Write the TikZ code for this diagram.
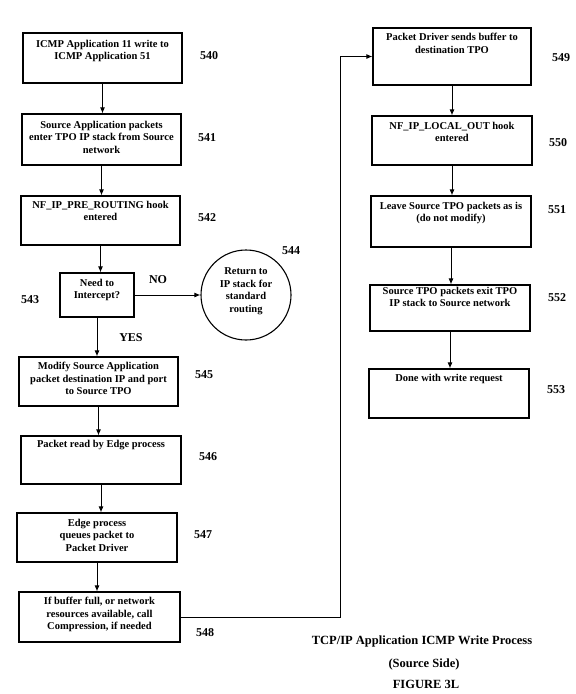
\documentclass[tikz,border=0pt]{standalone}
\usepackage{fontspec}
\setmainfont{Liberation Serif}
\usetikzlibrary{arrows.meta}
\begin{document}
\begin{tikzpicture}[x=1pt,y=-1pt,
  box/.style={draw, line width=1.1pt, inner sep=0pt, fill=white},
  txt/.style={font=\fontsize{10.5}{12.5}\selectfont\bfseries, align=center, inner sep=0pt},
  num/.style={font=\fontsize{12}{14}\selectfont\bfseries, inner sep=0pt},
  ttl/.style={font=\fontsize{12.5}{15}\selectfont\bfseries, inner sep=0pt},
  arr/.style={line width=1pt, -{Latex[length=6pt,width=5pt]}},
  con/.style={line width=1pt}]
\useasboundingbox[fill=white] (0,0) rectangle (576,694);

% left column boxes
\node[box, minimum width=159pt, minimum height=50pt] (b540) at (102.5,58) {};
\node[box, minimum width=159pt, minimum height=51pt] (b541) at (101.5,139.5) {};
\node[box, minimum width=159pt, minimum height=49pt] (b542) at (100.5,220.5) {};
\node[box, minimum width=74pt, minimum height=44pt] (b543) at (97,295) {};
\node[draw, line width=1.1pt, circle, minimum size=90pt, inner sep=0pt] (c544) at (246,295) {};
\node[box, minimum width=159pt, minimum height=49pt] (b545) at (98.5,381.5) {};
\node[box, minimum width=160pt, minimum height=48pt] (b546) at (101,460) {};
\node[box, minimum width=160pt, minimum height=49pt] (b547) at (97,537.5) {};
\node[box, minimum width=161pt, minimum height=50pt] (b548) at (99.5,617) {};

% right column boxes
\node[box, minimum width=158pt, minimum height=57pt] (b549) at (452,56.5) {};
\node[box, minimum width=160pt, minimum height=49pt] (b550) at (452,140.5) {};
\node[box, minimum width=160pt, minimum height=51pt] (b551) at (451,221.5) {};
\node[box, minimum width=160pt, minimum height=46pt] (b552) at (450,308) {};
\node[box, minimum width=160pt, minimum height=49pt] (b553) at (449,393.5) {};

% texts
\node[txt, anchor=north] (t540) at (102.5,40) {ICMP Application 11 write to\\ICMP Application 51};
\node[txt, anchor=north] (t541) at (101.5,121) {Source Application packets\\enter TPO IP stack from Source\\network};
\node[txt, anchor=north] (t542) at (100.5,201) {NF\_IP\_PRE\_ROUTING hook\\entered};
\node[txt, anchor=north] (t543) at (97,279) {Need to\\Intercept?};
\node[txt] (t544) at (246,291) {Return to\\IP stack for\\standard\\routing};
\node[txt, anchor=north] (t545) at (98.5,362) {Modify Source Application\\packet destination IP and port\\to Source TPO};
\node[txt, anchor=north] (t546) at (101,440) {Packet read by Edge process};
\node[txt, anchor=north] (t547) at (97,519) {Edge process\\queues packet to\\Packet Driver};
\node[txt, anchor=north] (t548) at (99.5,597) {If buffer full, or network\\resources available, call\\Compression, if needed};
\node[txt, anchor=north] (t549) at (452,33) {Packet Driver sends buffer to\\destination TPO};
\node[txt, anchor=north] (t550) at (452,122) {NF\_IP\_LOCAL\_OUT hook\\entered};
\node[txt, anchor=north] (t551) at (451,202) {Leave Source TPO packets as is\\(do not modify)};
\node[txt, anchor=north] (t552) at (450,287) {Source TPO packets exit TPO\\IP stack to Source network};
\node[txt, anchor=north] (t553) at (449,374) {Done with write request};

% reference numbers
\node[num] (n540) at (209,56) {540};
\node[num] (n541) at (207,138) {541};
\node[num] (n542) at (207,218) {542};
\node[num] (n543) at (30,300) {543};
\node[num] (n544) at (291,251) {544};
\node[num] (n545) at (204,375) {545};
\node[num] (n546) at (208,457) {546};
\node[num] (n547) at (203,535) {547};
\node[num] (n548) at (205,633) {548};
\node[num] (n549) at (561,58) {549};
\node[num] (n550) at (558,143) {550};
\node[num] (n551) at (557,210) {551};
\node[num] (n552) at (557,298) {552};
\node[num] (n553) at (556,390) {553};

\node[num] (lno) at (158,280) {NO};
\node[num] (lyes) at (131,338) {YES};

% arrows
\draw[arr] (b540.south) -- (b540.south |- b541.north);
\draw[arr] (b541.south) -- (b541.south |- b542.north);
\draw[arr] (b542.south) -- (b542.south |- b543.north);
\draw[arr] (b543.east) -- (c544.west);
\draw[arr] (b543.south) -- (b543.south |- b545.north);
\draw[arr] (b545.south) -- (b545.south |- b546.north);
\draw[arr] (b546.south) -- (b546.south |- b547.north);
\draw[arr] (b547.south) -- (b547.south |- b548.north);
\coordinate (cup) at (340,0);
\draw[arr] (b548.east) -- (b548.east -| cup) -- (cup |- b549.west) -- (b549.west);
\draw[arr] (b549.south) -- (b549.south |- b550.north);
\draw[arr] (b550.south) -- (b550.south |- b551.north);
\draw[arr] (b551.south) -- (b551.south |- b552.north);
\draw[arr] (b552.south) -- (b552.south |- b553.north);

% title
\node[ttl] (ti1) at (422,641) {TCP/IP Application ICMP Write Process};
\node[ttl] (ti2) at (424,664) {(Source Side)};
\node[ttl] (ti3) at (426,684) {FIGURE 3L};
\end{tikzpicture}
\end{document}
